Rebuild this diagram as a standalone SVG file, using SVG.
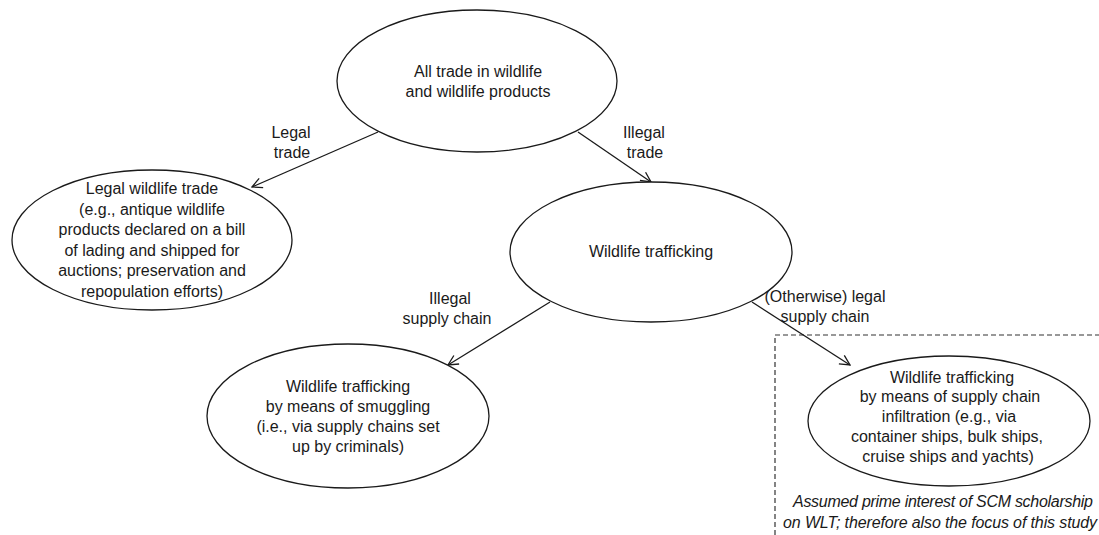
<svg xmlns="http://www.w3.org/2000/svg" width="1099" height="535" viewBox="0 0 1099 535">
<style>
.n ellipse{fill:#fff;stroke:#1a1a1a;stroke-width:1.3}
text{font-family:"Liberation Sans",Arial,sans-serif;font-size:16px;fill:#1a1a1a;text-anchor:middle}
.it{font-style:italic}
.c line{stroke:#1a1a1a;stroke-width:1.3;marker-end:url(#ah)}
</style>
<defs>
<marker id="ah" viewBox="0 0 12 12" refX="11" refY="6" markerWidth="12" markerHeight="12" markerUnits="userSpaceOnUse" orient="auto">
<path d="M1,1 L11,6 L1,11" fill="none" stroke="#1a1a1a" stroke-width="1.3"/>
</marker>
</defs>
<rect width="1099" height="535" fill="#fff"/>
<g id="focus-box">
<path d="M775,535 V335 H1099" fill="none" stroke="#333" stroke-width="1.2" stroke-dasharray="5,3"/>
<text class="it" x="943" y="507" textLength="300">Assumed prime interest of SCM scholarship</text>
<text class="it" x="940" y="528" textLength="314">on WLT; therefore also the focus of this study</text>
</g>
<g class="c" id="connectors">
<line x1="378" y1="132" x2="252" y2="187"/>
<line x1="578" y1="132" x2="651" y2="182"/>
<line x1="550" y1="302" x2="448" y2="365"/>
<line x1="752" y1="302" x2="850" y2="365"/>
<text x="291" y="138">Legal</text>
<text x="292" y="158">trade</text>
<text x="644" y="138">Illegal</text>
<text x="645" y="158">trade</text>
<text x="450" y="304">Illegal</text>
<text x="447" y="324">supply chain</text>
<text x="825" y="302">(Otherwise) legal</text>
<text x="825" y="322">supply chain</text>
</g>
<g class="n" id="all-trade">
<ellipse cx="477" cy="81" rx="140" ry="71"/>
<text x="478" y="77">All trade in wildlife</text>
<text x="478" y="97">and wildlife products</text>
</g>
<g class="n" id="legal-trade">
<ellipse cx="152" cy="240" rx="140" ry="70"/>
<text x="152" y="194">Legal wildlife trade</text>
<text x="152" y="215">(e.g., antique wildlife</text>
<text x="152" y="235">products declared on a bill</text>
<text x="152" y="256">of lading and shipped for</text>
<text x="152" y="276">auctions; preservation and</text>
<text x="152" y="297">repopulation efforts)</text>
</g>
<g class="n" id="trafficking">
<ellipse cx="651" cy="252" rx="141" ry="70"/>
<text x="651" y="257">Wildlife trafficking</text>
</g>
<g class="n" id="smuggling">
<ellipse cx="348" cy="416" rx="141" ry="72"/>
<text x="348" y="392">Wildlife trafficking</text>
<text x="348" y="412">by means of smuggling</text>
<text x="348" y="432">(i.e., via supply chains set</text>
<text x="348" y="452">up by criminals)</text>
</g>
<g class="n" id="infiltration">
<ellipse cx="949" cy="421" rx="141" ry="65"/>
<text x="952" y="383">Wildlife trafficking</text>
<text x="950" y="402">by means of supply chain</text>
<text x="949" y="422">infiltration (e.g., via</text>
<text x="947" y="442">container ships, bulk ships,</text>
<text x="948" y="462">cruise ships and yachts)</text>
</g>
</svg>
